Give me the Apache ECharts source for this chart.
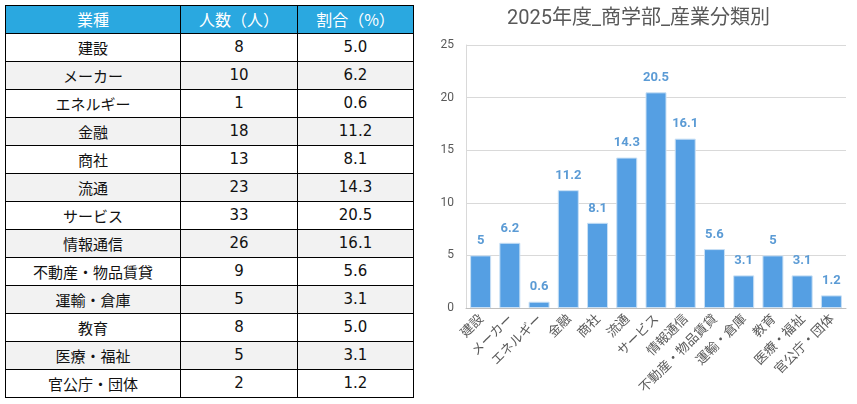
<!DOCTYPE html>
<html>
<head>
<meta charset="utf-8">
<script src="https://cdn.jsdelivr.net/npm/echarts@6/dist/echarts.min.js"></script>
<style>
    html, body {
        margin: 0;
        padding: 0;
        background: #fff;
        width: 857px;
        height: 404px;
        overflow: hidden;
    }
    .data_table {
        position: absolute;
        left: 5px;
        top: 5px;
        border-collapse: collapse;
        font-family: "Noto Sans CJK JP", "DejaVu Sans", sans-serif;
        font-size: 15px;
        color: #111;
    }
    .data_table th,
    .data_table td {
        border: 1px solid #000;
        height: 27px;
        padding: 0;
        text-align: center;
        line-height: 27px;
    }
    .data_table th {
        background: #2aa8e0;
        color: #fff;
        font-weight: normal;
        font-size: 16px;
    }
    .data_table td.num {
        font-family: "DejaVu Sans", sans-serif;
        font-size: 15px;
    }
    .data_table tr:nth-child(odd) td {
        background: #f2f2f2;
    }
    #chart_bar {
        position: absolute;
        left: 420px;
        top: 0;
        width: 437px;
        height: 404px;
    }
</style>
</head>
<body>
<table class="data_table" id="table"></table>
<div id="chart_bar"></div>
<script>
// 表头
const headers = ['業種', '人数（人）', '割合（%）']
// 業種
const categories = ['建設', 'メーカー', 'エネルギー', '金融', '商社', '流通', 'サービス', '情報通信', '不動産・物品賃貸', '運輸・倉庫', '教育', '医療・福祉', '官公庁・団体']
const counts = [8, 10, 1, 18, 13, 23, 33, 26, 9, 5, 8, 5, 2]
const ratios = [5.0, 6.2, 0.6, 11.2, 8.1, 14.3, 20.5, 16.1, 5.6, 3.1, 5.0, 3.1, 1.2]
const colWidths = [174, 116, 115]

// 表格
let html = '<tr>' + headers.map((h, i) => `<th style="width:${colWidths[i]}px">${h}</th>`).join('') + '</tr>'
categories.forEach((name, i) => {
    html += `<tr><td>${name}</td><td class="num">${counts[i]}</td><td class="num">${ratios[i].toFixed(1)}</td></tr>`
})
document.getElementById('table').innerHTML = html

// 柱状图
const myChart = echarts.init(document.getElementById('chart_bar'))
const option = {
    animation: false,
    title: {
        text: '2025年度_商学部_産業分類別',
        left: 'center',
        top: 4,
        textStyle: {
            color: '#595959',
            fontSize: 20,
            fontWeight: 'normal',
            fontFamily: 'Roboto, "Noto Sans CJK JP", sans-serif'
        }
    },
    grid: {
        left: 46,
        right: 11,
        top: 45,
        bottom: 96,
        containLabel: false
    },
    xAxis: {
        type: 'category',
        data: categories,
        axisLine: { lineStyle: { color: '#bfbfbf' } },
        axisTick: { show: false },
        axisLabel: {
            rotate: 45,
            interval: 0,
            color: '#595959',
            fontSize: 13,
            margin: 8,
            fontFamily: '"Noto Sans CJK JP", sans-serif'
        }
    },
    yAxis: {
        type: 'value',
        min: 0,
        max: 25,
        interval: 5,
        axisLine: { show: true, lineStyle: { color: '#d9d9d9' } },
        axisTick: { show: false },
        axisLabel: {
            color: '#595959',
            fontSize: 12,
            margin: 12,
            fontFamily: 'Roboto, sans-serif'
        },
        splitLine: { lineStyle: { color: '#d9d9d9' } }
    },
    series: [
        {
            type: 'bar',
            data: ratios,
            barWidth: 21,
            itemStyle: {
                color: '#559fe3',
                borderColor: '#c9e0f5',
                borderWidth: 1
            },
            label: {
                show: true,
                position: 'top',
                distance: 8,
                color: '#5b9bd5',
                fontSize: 13,
                fontWeight: 'bold',
                fontFamily: 'Roboto, sans-serif'
            }
        }
    ]
}
myChart.setOption(option)
window.addEventListener('resize', () => myChart.resize())
</script>
</body>
</html>
